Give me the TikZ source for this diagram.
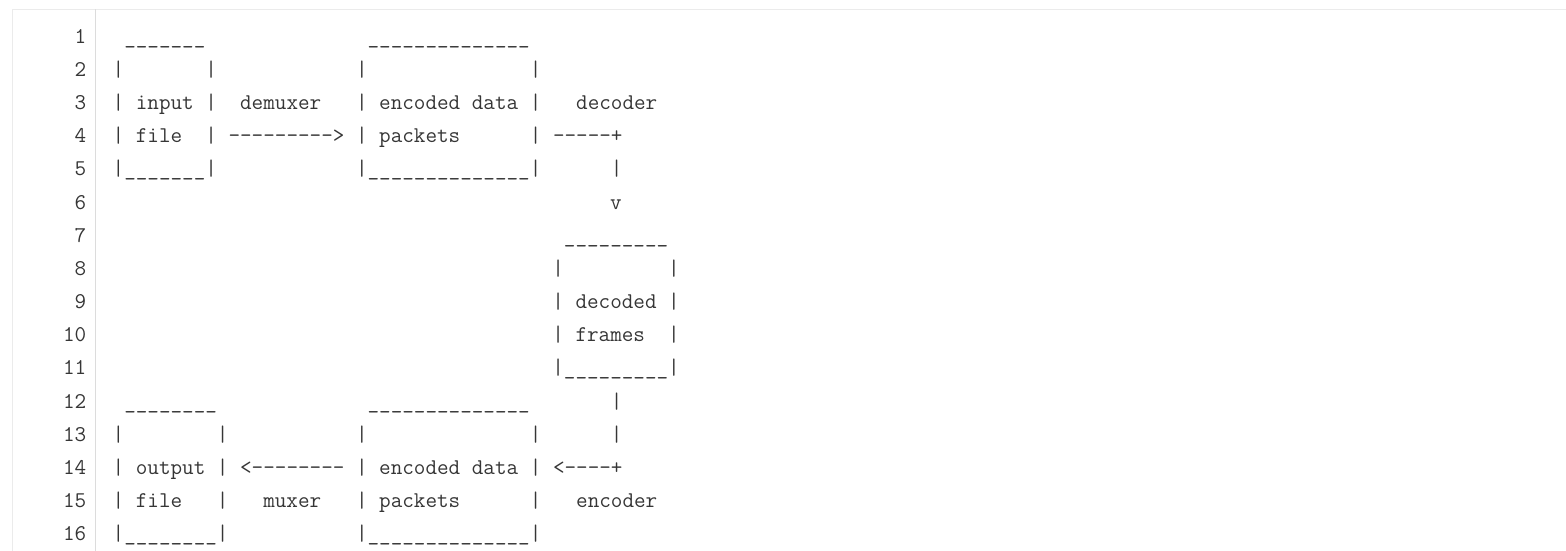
\documentclass[tikz,border=0pt]{standalone}
\usepackage{fontspec}
\definecolor{codetext}{HTML}{363636}
\definecolor{framegray}{HTML}{EBEBEB}
\definecolor{guttergray}{HTML}{DCDCDC}
\begin{document}
\begin{tikzpicture}[x=11.57pt, y=-33.2pt,
    code/.style={anchor=base west, inner sep=0, yshift=-1.5pt, text=codetext, font=\ttfamily\fontsize{22.5}{26}\selectfont},
    lineno/.style={anchor=base east, inner sep=0, yshift=-1.5pt, text=codetext, font=\ttfamily\fontsize{22.5}{26}\selectfont}]
		\useasboundingbox (-9.723,-0.25) rectangle (125.63,16.346);
		% frame and gutter
		\draw[framegray, line width=1pt] (-8.64,16.346) -- (-8.64,0.03) -- (125.63,0.03);
		\draw[guttergray, line width=1.2pt] (-1.47,0.03) -- (-1.47,16.346);
		% line numbers
		\node[lineno] (n1) at (-2.25,1) {1};
		\node[lineno] (n2) at (-2.25,2) {2};
		\node[lineno] (n3) at (-2.25,3) {3};
		\node[lineno] (n4) at (-2.25,4) {4};
		\node[lineno] (n5) at (-2.25,5) {5};
		\node[lineno] (n6) at (-2.25,6) {6};
		\node[lineno] (n7) at (-2.25,7) {7};
		\node[lineno] (n8) at (-2.25,8) {8};
		\node[lineno] (n9) at (-2.25,9) {9};
		\node[lineno] (n10) at (-2.25,10) {10};
		\node[lineno] (n11) at (-2.25,11) {11};
		\node[lineno] (n12) at (-2.25,12) {12};
		\node[lineno] (n13) at (-2.25,13) {13};
		\node[lineno] (n14) at (-2.25,14) {14};
		\node[lineno] (n15) at (-2.25,15) {15};
		\node[lineno] (n16) at (-2.25,16) {16};
		% listing, one node per line, x in columns
		\node[code] (l1) at (1,1) {\_\_\_\_\_\_\_~~~~~~~~~~~~~~\_\_\_\_\_\_\_\_\_\_\_\_\_\_};
		\node[code] (l2) at (0,2) {|~~~~~~~|~~~~~~~~~~~~|~~~~~~~~~~~~~~|};
		\node[code] (l3) at (0,3) {|~input~|~~demuxer~~~|~encoded~data~|~~~decoder};
		\node[code] (l4) at (0,4) {|~file~~|~--------->~|~packets~~~~~~|~-----+};
		\node[code] (l5) at (0,5) {|\_\_\_\_\_\_\_|~~~~~~~~~~~~|\_\_\_\_\_\_\_\_\_\_\_\_\_\_|~~~~~~|};
		\node[code] (l6) at (43,6) {v};
		\node[code] (l7) at (39,7) {\_\_\_\_\_\_\_\_\_};
		\node[code] (l8) at (38,8) {|~~~~~~~~~|};
		\node[code] (l9) at (38,9) {|~decoded~|};
		\node[code] (l10) at (38,10) {|~frames~~|};
		\node[code] (l11) at (38,11) {|\_\_\_\_\_\_\_\_\_|};
		\node[code] (l12) at (1,12) {\_\_\_\_\_\_\_\_~~~~~~~~~~~~~\_\_\_\_\_\_\_\_\_\_\_\_\_\_~~~~~~~|};
		\node[code] (l13) at (0,13) {|~~~~~~~~|~~~~~~~~~~~|~~~~~~~~~~~~~~|~~~~~~|};
		\node[code] (l14) at (0,14) {|~output~|~<--------~|~encoded~data~|~<----+};
		\node[code] (l15) at (0,15) {|~file~~~|~~~muxer~~~|~packets~~~~~~|~~~encoder};
		\node[code] (l16) at (0,16) {|\_\_\_\_\_\_\_\_|~~~~~~~~~~~|\_\_\_\_\_\_\_\_\_\_\_\_\_\_|};
\end{tikzpicture}
\end{document}
